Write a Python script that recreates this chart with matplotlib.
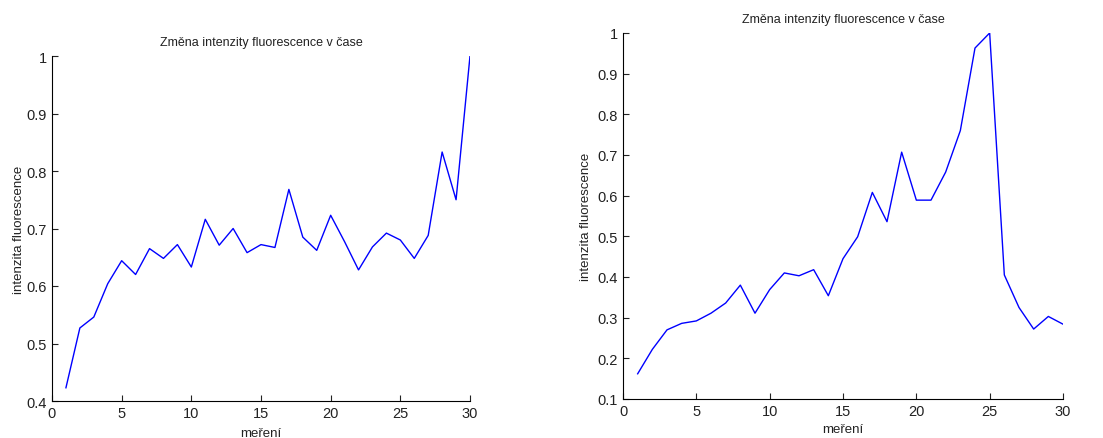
import numpy as np
from matplotlib import pyplot as plt

plt.rcParams['font.family'] = ['Liberation Sans', 'DejaVu Sans']

mereni = np.arange(1, 31)

# left experiment
intenzita_a = [0.423, 0.527, 0.546, 0.604, 0.644, 0.620, 0.665, 0.648, 0.672, 0.633,
               0.716, 0.671, 0.700, 0.658, 0.672, 0.667, 0.768, 0.685, 0.662, 0.723,
               0.677, 0.628, 0.668, 0.692, 0.680, 0.648, 0.688, 0.833, 0.750, 1.000]

# right experiment
intenzita_b = [0.162, 0.222, 0.270, 0.286, 0.292, 0.311, 0.336, 0.380, 0.311, 0.369,
               0.410, 0.403, 0.418, 0.354, 0.445, 0.499, 0.608, 0.536, 0.707, 0.589,
               0.589, 0.658, 0.760, 0.963, 1.000, 0.405, 0.325, 0.272, 0.303, 0.284]

titulek = "Změna intenzity fluorescence v čase"
W, H = 1103, 439

fig = plt.figure(figsize=(W / 100, H / 100), dpi=100)

def panel(rect, y, ylim, yticks, xlabelpad, ylabelpad):
    l, t, r, b = rect
    ax = fig.add_axes([l / W, 1 - b / H, (r - l) / W, (b - t) / H])
    ax.plot(mereni, y, color='#0000ff', lw=1.0)
    ax.set_xlim(0, 30)
    ax.set_ylim(*ylim)
    ax.set_xticks(range(0, 31, 5))
    ax.set_yticks(yticks)
    ax.set_yticklabels([('%g' % v) for v in yticks])
    ax.spines['top'].set_visible(False)
    ax.spines['right'].set_visible(False)
    ax.tick_params(direction='in', length=4, labelsize=10.5, colors='#222222')
    ax.set_title(titulek, fontsize=9, pad=8, color='#222222')
    ax.set_xlabel("meření", fontsize=9.5, labelpad=xlabelpad, color='#222222')
    ax.set_ylabel("intenzita fluorescence", fontsize=9.5, labelpad=ylabelpad, color='#222222')
    return ax

panel((52, 57, 470, 402), intenzita_a, (0.4, 1.0), np.arange(0.4, 1.01, 0.1), 5, 1)
panel((623, 34, 1063, 400), intenzita_b, (0.1, 1.0), np.arange(0.1, 1.01, 0.1), 4, 4)

fig.savefig('out.png', dpi=100)
